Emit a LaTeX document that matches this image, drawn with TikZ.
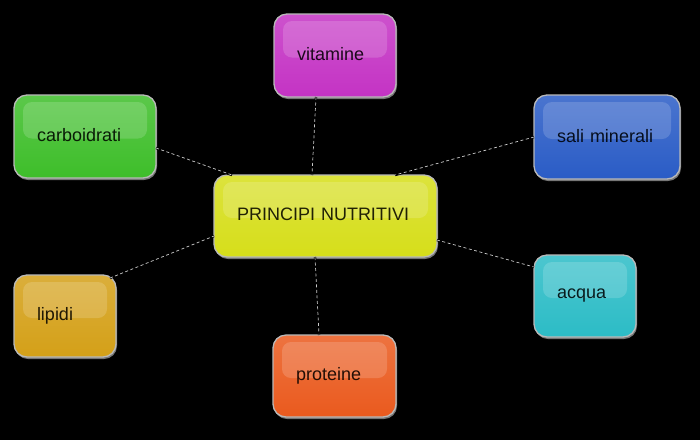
\documentclass[tikz,border=0pt]{standalone}
\usepackage{fontspec}
\setmainfont{Liberation Sans}
\usetikzlibrary{calc,shadows}
\definecolor{cYel}{HTML}{D6DE1A}
\definecolor{cMag}{HTML}{C433C4}
\definecolor{cGrn}{HTML}{3EBE2A}
\definecolor{cBlu}{HTML}{2A5CC6}
\definecolor{cCya}{HTML}{2CBCC6}
\definecolor{cGld}{HTML}{D4A018}
\definecolor{cOrg}{HTML}{EA5A1E}
\tikzset{
  gbox/.style 2 args={rectangle, rounded corners=13pt, draw=gray!55, line width=1.3pt,
    top color=#1!85!white, bottom color=#1, text=#1!15!black,
    font=\fontsize{18pt}{21pt}\selectfont, align=left, text width=#2,
    inner xsep=23pt, inner ysep=0pt, minimum height=82pt, outer sep=0pt,
    drop shadow={shadow xshift=1pt, shadow yshift=-2pt, fill=gray!45, opacity=0.6},
    path picture={\fill[white, fill opacity=0.16, rounded corners=9pt]
      ($(path picture bounding box.north west)+(9pt,-7pt)$) rectangle
      ($(path picture bounding box.east)+(-9pt,-2pt)$);}},
  conn/.style={draw=white!80!black, line width=0.7pt, dash pattern=on 3pt off 2.5pt,
    preaction={draw=black, line width=2.4pt, solid}}
}
\begin{document}
\begin{tikzpicture}[x=1pt,y=-1pt]
\fill[black] (0,0) rectangle (700,440);
\useasboundingbox (0,0) rectangle (700,440);
\node[gbox={cYel}{177pt}] (ctr) at (325.5,216) {\raisebox{3pt}{PRINCIPI NUTRITIVI}};
\node[gbox={cMag}{76pt}, minimum height=83pt] (vit) at (335,55.5) {\raisebox{3pt}{vitamine}};
\node[gbox={cGrn}{96pt}, minimum height=83pt] (carb) at (85,136.5) {\raisebox{3pt}{carboidrati}};
\node[gbox={cBlu}{100pt}, minimum height=84pt] (sali) at (607,137) {\raisebox{3pt}{sali minerali}};
\node[gbox={cGld}{56pt}] (lip) at (65,316) {\raisebox{3pt}{lipidi}};
\node[gbox={cCya}{56pt}] (acq) at (585,296) {\raisebox{3pt}{acqua}};
\node[gbox={cOrg}{77pt}] (prot) at (334.5,376) {\raisebox{3pt}{proteine}};
\draw[conn] ([xshift=-19pt]vit.south) -- ([xshift=-13.5pt]ctr.north);
\draw[conn] ([yshift=-11.5pt]carb.east) -- ([xshift=18pt]ctr.north west);
\draw[conn] (sali.west) -- ([xshift=-42pt]ctr.north east);
\draw[conn] ([xshift=-6pt,yshift=-3pt]lip.north east) -- ([yshift=-20pt]ctr.west);
\draw[conn] ([yshift=-24pt]ctr.east) -- ([yshift=29pt]acq.west);
\draw[conn] ([xshift=-10.5pt]ctr.south) -- ([xshift=-15.5pt]prot.north);
\end{tikzpicture}
\end{document}
